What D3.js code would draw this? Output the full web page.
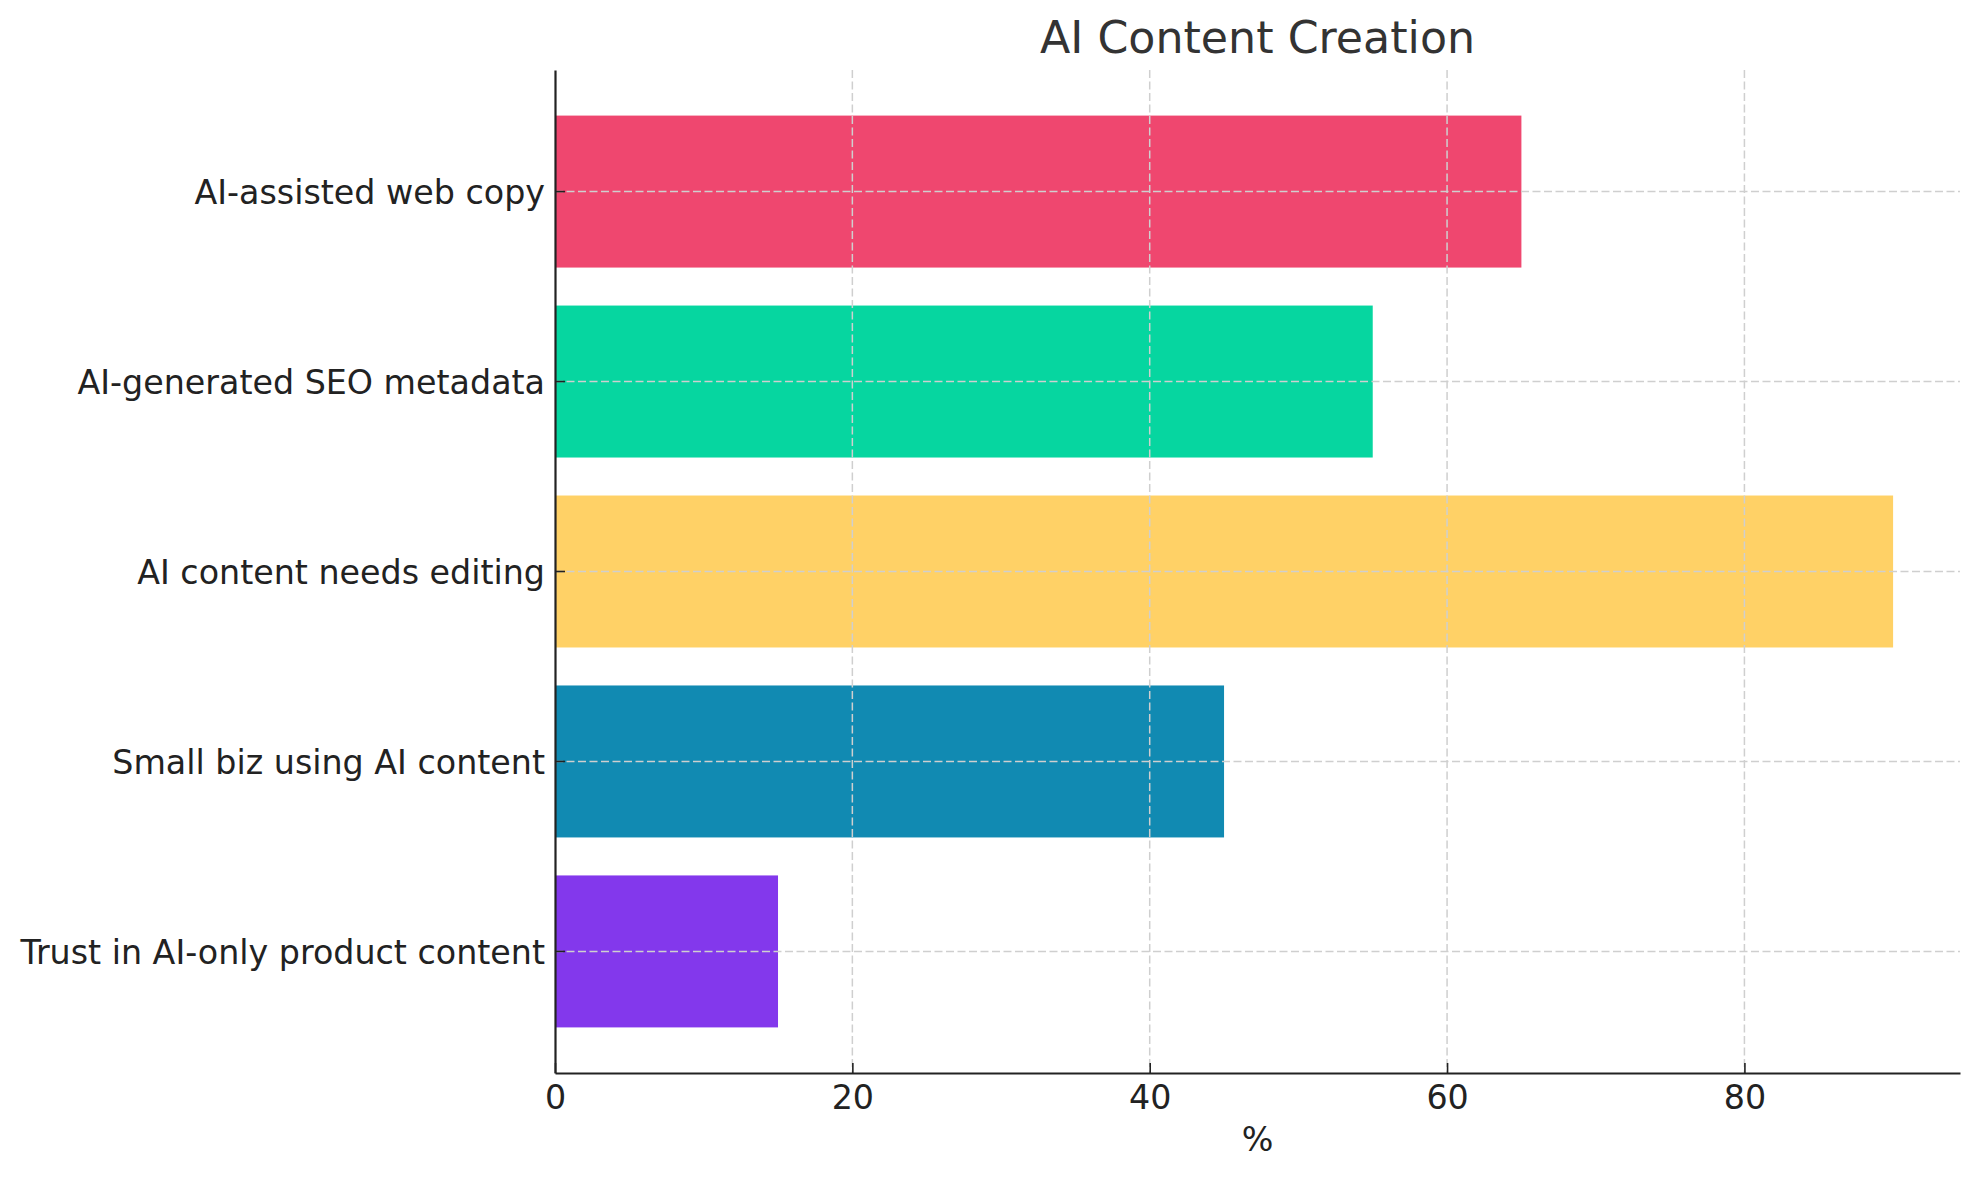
<!DOCTYPE html>
<html>
<head>
<meta charset="utf-8">
<script src="https://cdn.jsdelivr.net/npm/d3@7"></script>
<style>
  body { margin: 0; background: #fff; }
  svg text { font-family: "DejaVu Sans", sans-serif; }
</style>
</head>
<body>
<div id="chart"></div>
<script>
// datos del grafico (de arriba hacia abajo)
var categories = ["AI-assisted web copy", "AI-generated SEO metadata", "AI content needs editing",
                  "Small biz using AI content", "Trust in AI-only product content"];
var values = [65, 55, 90, 45, 15];
var colors = ["#EF476F", "#06D6A0", "#FFD166", "#118AB2", "#8338EC"];
var xTicks = [0, 20, 40, 60, 80];
var title = "AI Content Creation";
var xLabel = "%";

var width = 1979, height = 1180,
    margin = {top: 70, right: 19, bottom: 107, left: 555};

var svg = d3.select("#chart").append("svg")
  .attr("width", width)
  .attr("height", height);

var x = d3.scaleLinear()
  .domain([0, d3.max(values) * 1.05])
  .range([margin.left, width - margin.right]);

var y = d3.scaleBand()
  .domain(categories)
  .range([margin.top, height - margin.bottom])
  .paddingInner(0.2)
  .paddingOuter(0.24);

var data = categories.map(function(c, i) {
  return {cat: c, value: values[i], color: colors[i]};
});

// barras
svg.selectAll("rect.bar")
  .data(data)
  .enter()
  .append("rect")
  .attr("class", "bar")
  .attr("x", x(0))
  .attr("y", function(d) { return y(d.cat); })
  .attr("width", function(d) { return x(d.value) - x(0); })
  .attr("height", y.bandwidth())
  .style("fill", function(d) { return d.color; });

// grilla punteada (encima de las barras)
var grid = svg.append("g").attr("class", "grid");
grid.selectAll("line.vx")
  .data(xTicks.slice(1))
  .enter()
  .append("line")
  .attr("x1", function(d) { return x(d); })
  .attr("x2", function(d) { return x(d); })
  .attr("y1", margin.top)
  .attr("y2", height - margin.bottom);
grid.selectAll("line.hy")
  .data(categories)
  .enter()
  .append("line")
  .attr("x1", margin.left)
  .attr("x2", width - margin.right)
  .attr("y1", function(d) { return y(d) + y.bandwidth() / 2; })
  .attr("y2", function(d) { return y(d) + y.bandwidth() / 2; });
grid.selectAll("line")
  .style("stroke", "#cfcfcf")
  .style("stroke-width", 1.5)
  .style("stroke-dasharray", "8,3.5");

// eje x
var xAxis = d3.axisBottom(x)
  .tickValues(xTicks)
  .tickSizeInner(-10)
  .tickSizeOuter(0)
  .tickPadding(12);
var gx = svg.append("g")
  .attr("transform", "translate(0," + (height - margin.bottom) + ")")
  .call(xAxis);
gx.select(".domain").attr("stroke", "#222").attr("stroke-width", 2.2);
gx.selectAll(".tick line").attr("stroke", "#222").attr("stroke-width", 1.6);
gx.selectAll(".tick text")
  .style("font-size", "33.3px")
  .style("fill", "#222");

// eje y
var yAxis = d3.axisLeft(y)
  .tickSizeInner(-10)
  .tickSizeOuter(0)
  .tickPadding(10);
var gy = svg.append("g")
  .attr("transform", "translate(" + margin.left + ",0)")
  .call(yAxis);
gy.select(".domain").attr("stroke", "#222").attr("stroke-width", 2.2);
gy.selectAll(".tick line").attr("stroke", "#222").attr("stroke-width", 1.6);
gy.selectAll(".tick text")
  .attr("dy", "0.38em")
  .style("font-size", "33.3px")
  .style("fill", "#222");

// titulo
svg.append("text")
  .attr("x", (margin.left + width - margin.right) / 2)
  .attr("y", 53)
  .attr("text-anchor", "middle")
  .style("font-size", "44.3px")
  .style("fill", "#333")
  .text(title);

// etiqueta eje x
svg.append("text")
  .attr("x", (margin.left + width - margin.right) / 2)
  .attr("y", 1151)
  .attr("text-anchor", "middle")
  .style("font-size", "33.3px")
  .style("fill", "#222")
  .text(xLabel);
</script>
</body>
</html>
